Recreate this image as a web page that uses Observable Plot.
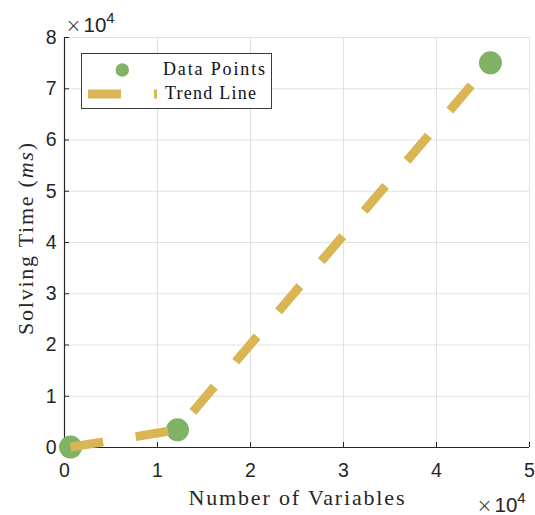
<!DOCTYPE html>
<html><head><meta charset="utf-8">
<script src="https://cdn.jsdelivr.net/npm/d3@7"></script>
<script src="https://cdn.jsdelivr.net/npm/@observablehq/plot@0.6"></script>
<style>body{margin:0;background:#fff}</style>
</head><body><div id="chart"></div>
<script>
// Data
const numVariables = [650, 12150, 45800];
const solvingTime = [80, 3450, 75050];
const xTicks = [0, 10000, 20000, 30000, 40000, 50000];
const yTicks = [0, 10000, 20000, 30000, 40000, 50000, 60000, 70000, 80000];
const seriesNames = ["Data Points", "Trend Line"];
const xLabel = "Number of Variables";
const yLabelMain = "Solving Time (";
const yLabelUnit = "ms";
const exponentText = "4";

const green = "#80b365";
const gold = "#d9b553";
const axisColor = "#262626";

const data = numVariables.map((x, i) => ({x, y: solvingTime[i]}));

const plot = Plot.plot({
  width: 535, height: 515,
  marginLeft: 64, marginRight: 6, marginTop: 37, marginBottom: 68,
  x: {domain: [0, 50000]},
  y: {domain: [0, 80000]},
  style: {fontFamily: "'Liberation Sans', Arial, sans-serif", background: "#fff", color: axisColor},
  marks: [
    Plot.gridX(xTicks, {stroke: "#e2e2e2", strokeOpacity: 1}),
    Plot.gridY(yTicks, {stroke: "#e2e2e2", strokeOpacity: 1}),
    Plot.ruleY([0], {stroke: axisColor, strokeWidth: 1.2}),
    Plot.ruleX([0], {stroke: axisColor, strokeWidth: 1.2}),
    Plot.axisX(xTicks, {tickSize: -5, tickFormat: () => "", stroke: axisColor, label: null}),
    Plot.axisY(yTicks, {tickSize: -5, tickFormat: () => "", stroke: axisColor, label: null}),
    Plot.axisX(xTicks, {tickSize: 0, tickPadding: 16, tickFormat: d => d / 1e4, fontSize: 19.5, fill: axisColor, label: null}),
    Plot.axisY(yTicks, {tickSize: 0, tickPadding: 8, tickFormat: d => d / 1e4, fontSize: 19.5, fill: axisColor, label: null}),
    Plot.dot(data, {x: "x", y: "y", r: 11.5, fill: green, stroke: "none"}),
    Plot.line(data, {x: "x", y: "y", stroke: gold, strokeWidth: 9, strokeDasharray: "33,33", strokeLinecap: "butt", strokeLinejoin: "miter"})
  ]
});

document.getElementById("chart").appendChild(plot);

const svg = d3.select(plot);
const xs = plot.scale("x"), ys = plot.scale("y");
const x0 = xs.apply(0), x1 = xs.apply(50000), y0 = ys.apply(0), y1 = ys.apply(80000);
const serif = "'Liberation Serif', 'Times New Roman', serif";

// x label
svg.append("text")
  .attr("x", (x0 + x1) / 2).attr("y", y0 + 58)
  .attr("text-anchor", "middle")
  .attr("font-family", serif).attr("font-size", 22).attr("fill", axisColor)
  .attr("textLength", 216).attr("lengthAdjust", "spacing")
  .text(xLabel);

// y label
const yl = svg.append("text")
  .attr("transform", `translate(${x0 - 31},${(y0 + y1) / 2 - 3}) rotate(-90)`)
  .attr("text-anchor", "middle")
  .attr("font-family", serif).attr("font-size", 22).attr("fill", axisColor)
  .attr("textLength", 192).attr("lengthAdjust", "spacing");
yl.append("tspan").text(yLabelMain);
yl.append("tspan").attr("font-style", "italic").text(yLabelUnit);
yl.append("tspan").text(")");

// exponent labels
function expLabel(x, y) {
  const g = svg.append("g").attr("text-anchor", "start").attr("fill", axisColor);
  g.append("text").attr("x", x).attr("y", y).attr("font-family", "'DejaVu Sans', sans-serif")
    .attr("font-size", 19).attr("font-weight", 300).text("\u00d7");
  const t = g.append("text").attr("x", x + 18).attr("y", y)
    .attr("font-family", "'Liberation Sans', Arial, sans-serif").attr("font-size", 20.5);
  t.append("tspan").text("10");
  t.append("tspan").attr("font-size", 15).attr("dy", -9).text(exponentText);
}
expLabel(x0 + 1.5, y1 - 5.3);
expLabel(x1 - 52.5, y0 + 64.7);

// legend
const lg = svg.append("g").attr("text-anchor", "start");
lg.append("rect").attr("x", 81.5).attr("y", 53.5).attr("width", 190).attr("height", 55)
  .attr("fill", "#fff").attr("stroke", axisColor).attr("stroke-width", 0.9);
lg.append("circle").attr("cx", 122.3).attr("cy", 70).attr("r", 6.7).attr("fill", green);
lg.append("line").attr("x1", 88).attr("x2", 157).attr("y1", 94).attr("y2", 94)
  .attr("stroke", gold).attr("stroke-width", 9).attr("stroke-dasharray", "33,33");
lg.append("text").attr("x", 163).attr("y", 75).attr("font-family", serif).attr("font-size", 18)
  .attr("fill", "#111").attr("textLength", 102).attr("lengthAdjust", "spacing").text(seriesNames[0]);
lg.append("text").attr("x", 165).attr("y", 99).attr("font-family", serif).attr("font-size", 18)
  .attr("fill", "#111").attr("textLength", 91).attr("lengthAdjust", "spacing").text(seriesNames[1]);
</script>
</body></html>
